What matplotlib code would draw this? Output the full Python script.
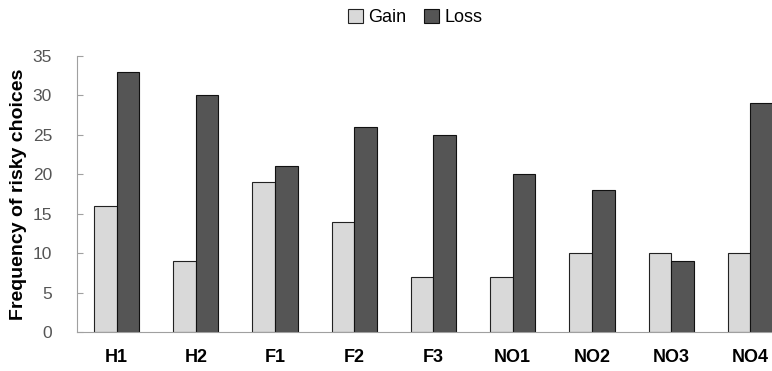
import numpy as np
import matplotlib.pyplot as plt

plt.rcParams['font.family'] = ['Liberation Sans', 'DejaVu Sans']

# Data
categories = ["H1", "H2", "F1", "F2", "F3", "NO1", "NO2", "NO3", "NO4"]
gain = [16, 9, 19, 14, 7, 7, 10, 10, 10]
loss = [33, 30, 21, 26, 25, 20, 18, 9, 29]

fig = plt.figure(figsize=(7.72, 3.71), dpi=100)
ax = fig.add_axes([77 / 772, 39 / 371, 713 / 772, 276 / 371])

x = np.arange(len(categories))
w = 0.285
ax.bar(x - w / 2, gain, w, color='#d9d9d9', edgecolor='#222222', linewidth=0.8, label='Gain')
ax.bar(x + w / 2, loss, w, color='#555555', edgecolor='#111111', linewidth=0.8, label='Loss')

ax.set_xlim(-0.5, len(categories) - 0.5)
ax.set_ylim(0, 35)
ax.set_yticks(range(0, 36, 5))
ax.set_xticks(x)
ax.set_xticklabels(categories, fontsize=13, fontweight='bold')
ax.tick_params(axis='x', length=0, pad=12)
ax.tick_params(axis='y', direction='in', length=4, color='#a0a0a0', labelcolor='#555555',
               labelsize=12.5, pad=18)

for s in ['top', 'right']:
    ax.spines[s].set_visible(False)
ax.spines['left'].set_color('#a0a0a0')
ax.spines['bottom'].set_color('#a0a0a0')

ax.set_ylabel("Frequency of risky choices", fontsize=14, fontweight='bold', labelpad=4)

fig.legend(loc='upper left', bbox_to_anchor=(332 / 772, 1.02), ncol=2, frameon=False,
           fontsize=13, handlelength=0.8, handleheight=0.8, handletextpad=0.3, columnspacing=1.0)

fig.savefig("out.png", dpi=100)
